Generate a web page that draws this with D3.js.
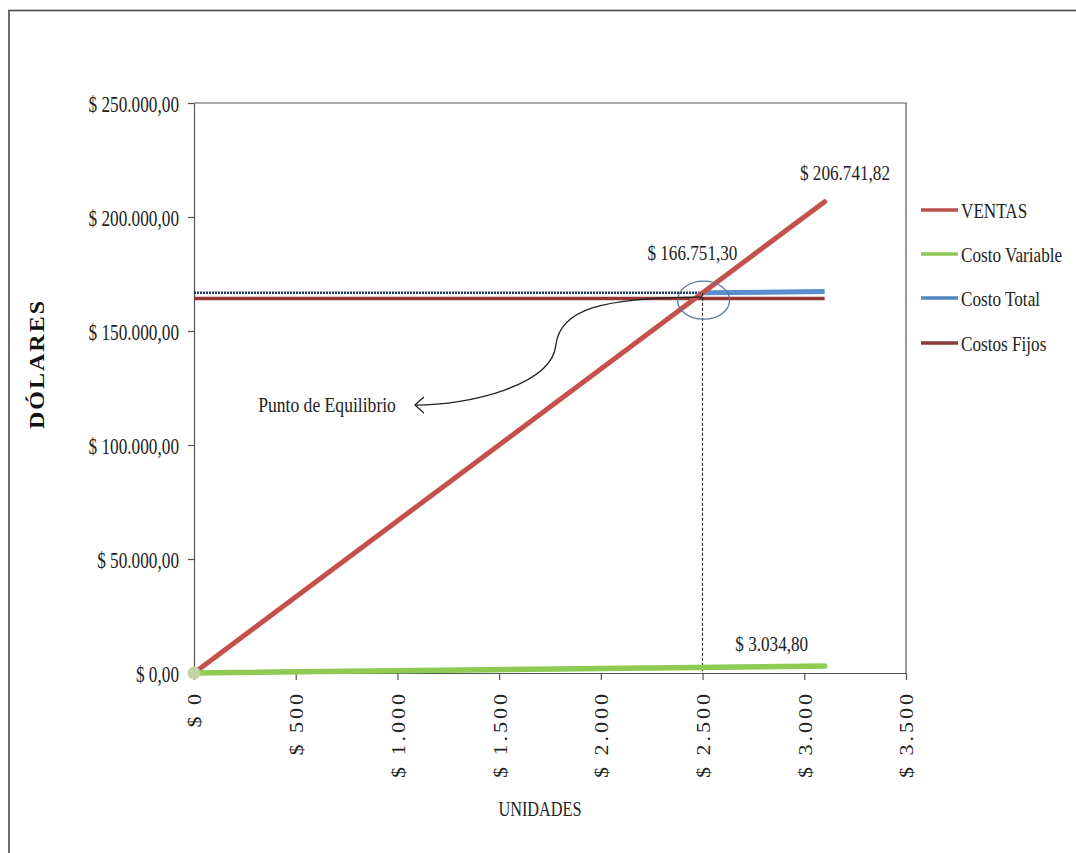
<!DOCTYPE html>
<html>
<head>
<meta charset="utf-8">
<script src="https://cdn.jsdelivr.net/npm/d3@7"></script>
<style>
  body { margin: 0; background: #fff; }
  svg { display: block; font-family: "Liberation Serif", "Times New Roman", serif; }
</style>
</head>
<body>
<svg id="chart"></svg>
<script>
"use strict";

// ---------- data ----------
const units = [0, 3100];
const ventas = [0, 206741.82];
const costoVariable = [0, 3034.80];
const costosFijos = [164304, 164304];
const totalUnits = [2500, 3100];
const costoTotal = [166751.30, 167338];

const equilibrio = { u: 2500, v: 166751.30 };

const yTicks = [0, 50000, 100000, 150000, 200000, 250000];
const yTickLabels = ["$ 0,00", "$ 50.000,00", "$ 100.000,00", "$ 150.000,00", "$ 200.000,00", "$ 250.000,00"];
const xTicks = [0, 500, 1000, 1500, 2000, 2500, 3000, 3500];
const xTickLabels = ["$ 0", "$ 500", "$ 1.000", "$ 1.500", "$ 2.000", "$ 2.500", "$ 3.000", "$ 3.500"];

const legendNames = ["VENTAS", "Costo Variable", "Costo Total", "Costos Fijos"];
const legendColors = ["#b9504c", "#8cc751", "#5585c2", "#8e3a3a"];

// ---------- setup ----------
const W = 1076, H = 853;
const svg = d3.select("#chart").attr("width", W).attr("height", H);

// the picture is squeezed sideways, so text gets narrowed with a transform
const SQ = 0.78;
function squeeze(sel, k) {
  sel.each(function () {
    const t = d3.select(this);
    const tx = +t.attr("x") || 0, ty = +t.attr("y") || 0;
    t.attr("x", 0).attr("y", 0)
      .attr("transform", `translate(${tx},${ty}) scale(${k},1)`);
  });
}

// outer frame (right/bottom run off the picture)
svg.append("rect")
  .attr("x", 9).attr("y", 10.5)
  .attr("width", 1200).attr("height", 1000)
  .attr("fill", "none").attr("stroke", "#4a4a4a").attr("stroke-width", 1.6);

const x = d3.scaleLinear().domain([0, 3500]).range([194, 906]);
const y = d3.scaleLinear().domain([0, 250000]).range([673, 103]);

// plot box top/right
svg.append("path")
  .attr("d", `M${x(0)},${y(250000)}H${x(3500)}V${y(0)}`)
  .attr("fill", "none").attr("stroke", "#555").attr("stroke-width", 1.2);

// ---------- axes ----------
const yAxis = d3.axisLeft(y)
  .tickValues(yTicks)
  .tickFormat((d, i) => yTickLabels[i])
  .tickSize(6).tickSizeOuter(0).tickPadding(9);
const gy = svg.append("g").attr("transform", `translate(${x(0)},0)`).call(yAxis);
gy.selectAll("path, line").attr("stroke", "#555").attr("stroke-width", 1.2);
gy.selectAll("text")
  .attr("font-family", "Liberation Serif")
  .attr("font-size", 23)
  .attr("fill", "#222")
  .attr("dy", "0.35em");
squeeze(gy.selectAll("text"), 0.75);

const xAxis = d3.axisBottom(x)
  .tickValues(xTicks)
  .tickFormat((d, i) => xTickLabels[i])
  .tickSize(7).tickSizeOuter(0);
const gx = svg.append("g").attr("transform", `translate(0,${y(0)})`).call(xAxis);
gx.selectAll("path, line").attr("stroke", "#555").attr("stroke-width", 1.2);
gx.selectAll("text")
  .attr("font-family", "Liberation Serif")
  .attr("font-size", 22)
  .attr("fill", "#222")
  .attr("x", 0).attr("y", 0).attr("dy", "0.35em")
  .attr("text-anchor", "end")
  .style("letter-spacing", "3px")
  .attr("transform", `translate(0,18) rotate(-90) scale(1,0.9)`);

// axis titles
svg.append("text")
  .attr("transform", `translate(36,364) rotate(-90) scale(1,0.9)`)
  .attr("text-anchor", "middle")
  .attr("dy", "0.35em")
  .attr("font-size", 24)
  .attr("font-weight", "bold")
  .style("letter-spacing", "2px")
  .attr("fill", "#111")
  .text("DÓLARES");

const xt = svg.append("text")
  .attr("x", 540).attr("y", 816)
  .attr("text-anchor", "middle")
  .attr("font-size", 22)
  .attr("fill", "#222")
  .text("UNIDADES");
squeeze(xt, 0.74);

// ---------- series ----------
const line = d3.line().x(d => x(d[0])).y(d => y(d[1]));
const pairs = (xs, ys) => xs.map((u, i) => [u, ys[i]]);

// Costos Fijos
svg.append("path")
  .datum(pairs(units, costosFijos))
  .attr("d", line)
  .attr("fill", "none").attr("stroke", "#953735").attr("stroke-width", 3.5);

// dotted reference at break-even value
svg.append("path")
  .datum([[0, equilibrio.v], [equilibrio.u, equilibrio.v]])
  .attr("d", line)
  .attr("fill", "none").attr("stroke", "#1f3a64").attr("stroke-width", 2.5)
  .attr("stroke-dasharray", "2,1");

// Costo Total
svg.append("path")
  .datum(pairs(totalUnits, costoTotal))
  .attr("d", line)
  .attr("fill", "none").attr("stroke", "#5b8ed0").attr("stroke-width", 5);

// VENTAS
svg.append("path")
  .datum(pairs(units, ventas))
  .attr("d", line)
  .attr("fill", "none").attr("stroke", "#c5514d").attr("stroke-width", 5)
  .attr("stroke-linecap", "round");

// vertical dashed drop line
svg.append("path")
  .datum([[equilibrio.u, equilibrio.v], [equilibrio.u, 0]])
  .attr("d", line)
  .attr("fill", "none").attr("stroke", "#111").attr("stroke-width", 1)
  .attr("stroke-dasharray", "3,2");

// Costo Variable
svg.append("path")
  .datum(pairs(units, costoVariable))
  .attr("d", line)
  .attr("fill", "none").attr("stroke", "#8dcb52").attr("stroke-width", 5.5)
  .attr("stroke-linecap", "round");

// origin marker
svg.append("circle")
  .attr("cx", x(0)).attr("cy", y(0)).attr("r", 6.5)
  .attr("fill", "#c3d3a6");

// ellipse around break-even
svg.append("ellipse")
  .attr("cx", x(2505)).attr("cy", y(163500))
  .attr("rx", 26).attr("ry", 19)
  .attr("fill", "none").attr("stroke", "#5877a0").attr("stroke-width", 1.3);

// curved arrow to label
const arrowPts = [[2502, 164900], [1996, 164900], [1799, 159200], [1779, 143900],
                  [1760, 126300], [1357, 117500], [1086, 117500]];
const p = arrowPts.map(d => [x(d[0]), y(d[1])]);
svg.append("path")
  .attr("d", `M${p[0]}C${p[1]} ${p[2]} ${p[3]}C${p[4]} ${p[5]} ${p[6]}`)
  .attr("fill", "none").attr("stroke", "#222").attr("stroke-width", 1.3);
const tip = p[6];
svg.append("path")
  .attr("d", `M${tip[0] + 9},${tip[1] - 8}L${tip[0]},${tip[1]}L${tip[0] + 9},${tip[1] + 8}`)
  .attr("fill", "none").attr("stroke", "#222").attr("stroke-width", 1.3);

// ---------- labels ----------
const notes = [
  { text: "$ 206.741,82", u: 3200, v: 206741.82, dy: -22 },
  { text: "$ 166.751,30", u: 2450, v: 166751.30, dy: -33 },
  { text: "$ 3.034,80", u: 2840, v: 3034.80, dy: -15 }
];
notes.forEach(n => {
  const t = svg.append("text")
    .attr("x", x(n.u)).attr("y", y(n.v) + n.dy)
    .attr("text-anchor", "middle")
    .attr("font-size", 22).attr("fill", "#222")
    .text(n.text);
  squeeze(t, SQ);
});

const pe = svg.append("text")
  .attr("x", tip[0] - 19).attr("y", tip[1] + 7)
  .attr("text-anchor", "end")
  .attr("font-size", 22).attr("fill", "#222")
  .text("Punto de Equilibrio");
squeeze(pe, 0.8);

// ---------- legend ----------
const legendY = [210, 254, 298, 343];
legendNames.forEach((name, i) => {
  svg.append("line")
    .attr("x1", 921).attr("x2", 958)
    .attr("y1", legendY[i]).attr("y2", legendY[i])
    .attr("stroke", legendColors[i]).attr("stroke-width", 3.5);
  const t = svg.append("text")
    .attr("x", 961).attr("y", legendY[i]).attr("dy", "0.35em")
    .attr("font-size", 22).attr("fill", "#222")
    .text(name);
  squeeze(t, 0.78);
});
</script>
</body>
</html>
